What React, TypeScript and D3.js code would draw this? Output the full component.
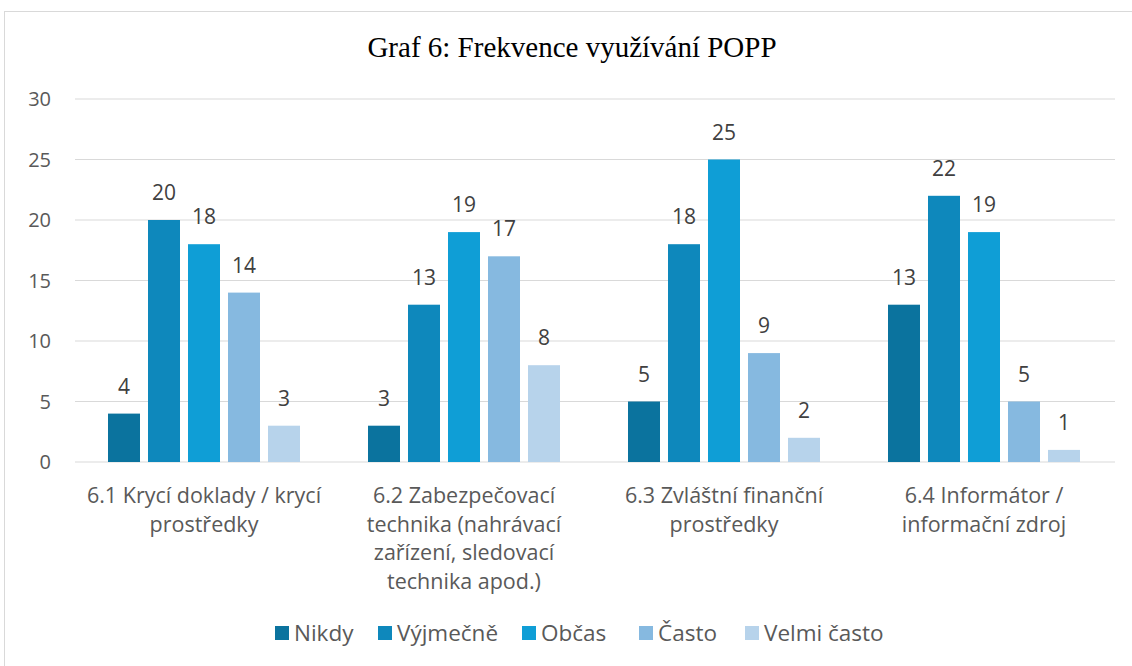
import React from "react";
import * as d3 from "d3";

const categories = [
  ["6.1 Krycí doklady / krycí", "prostředky"],
  ["6.2 Zabezpečovací", "technika (nahrávací", "zařízení, sledovací", "technika apod.)"],
  ["6.3 Zvláštní finanční", "prostředky"],
  ["6.4 Informátor /", "informační zdroj"],
];
const seriesNames = ["Nikdy", "Výjmečně", "Občas", "Často", "Velmi často"];
const nikdy = [4, 3, 5, 13];
const vyjmecne = [20, 13, 18, 22];
const obcas = [18, 19, 25, 19];
const casto = [14, 17, 9, 5];
const velmiCasto = [3, 8, 2, 1];
const yTicks = [0, 5, 10, 15, 20, 25, 30];
const colors = ["#0B739E", "#0E88BC", "#0F9ED6", "#86B9E0", "#B7D3EB"];

const series = [nikdy, vyjmecne, obcas, casto, velmiCasto];

const W = 1132;
const H = 666;
const font = "Aptos, 'Open Sans', 'Noto Sans', sans-serif";

export default function App() {
  const x = d3.scaleBand<number>().domain([0, 1, 2, 3]).range([75, 1115]);
  const inner = d3
    .scaleBand<number>()
    .domain([0, 1, 2, 3, 4])
    .range([29, 229])
    .paddingInner(0.2)
    .paddingOuter(0.1);
  const y = d3.scaleLinear().domain([0, 30]).range([462, 99]);

  const legendX = [275, 378, 522, 639, 745];

  return (
    <svg
      width={W}
      height={H}
      style={{ position: "absolute", left: 0, top: 0 }}
      fontFamily={font}
    >
      <rect x={0} y={0} width={W} height={H} fill="#fff" />
      <rect x={4.5} y={11.5} width={1140} height={670} fill="#fff" stroke="#d9d9d9" />
      <text
        x={572}
        y={57}
        textAnchor="middle"
        fontFamily="'Liberation Serif', 'Times New Roman', serif"
        fontSize={29}
        fill="#000"
      >
        Graf 6: Frekvence využívání POPP
      </text>
      {yTicks.map((t) => (
        <g key={t}>
          <line x1={75} x2={1115} y1={y(t)} y2={y(t)} stroke="#d9d9d9" strokeWidth={1} />
          <text x={51} y={y(t) + 7} textAnchor="end" fontSize={20} fill="#595959">
            {t}
          </text>
        </g>
      ))}
      {categories.map((_, ci) =>
        series.map((s, si) => {
          const bx = (x(ci) as number) + (inner(si) as number);
          return (
            <g key={`${ci}-${si}`}>
              <rect
                x={bx}
                y={y(s[ci])}
                width={inner.bandwidth()}
                height={y(0) - y(s[ci])}
                fill={colors[si]}
              />
              <text
                x={bx + inner.bandwidth() / 2}
                y={y(s[ci]) - 20}
                textAnchor="middle"
                fontSize={21}
                fill="#404040"
              >
                {s[ci]}
              </text>
            </g>
          );
        })
      )}
      {categories.map((lines, ci) => (
        <text
          key={ci}
          x={(x(ci) as number) + x.bandwidth() / 2}
          textAnchor="middle"
          fontSize={21.5}
          fill="#595959"
        >
          {lines.map((l, li) => (
            <tspan key={li} x={(x(ci) as number) + x.bandwidth() / 2 - 1} y={503 + li * 28.5}>
              {l}
            </tspan>
          ))}
        </text>
      ))}
      {seriesNames.map((n, i) => (
        <g key={n} transform={`translate(${legendX[i]},0)`}>
          <rect x={0} y={626} width={14} height={14} fill={colors[i]} />
          <text x={19} y={641} fontSize={22.5} fill="#595959">
            {n}
          </text>
        </g>
      ))}
    </svg>
  );
}
